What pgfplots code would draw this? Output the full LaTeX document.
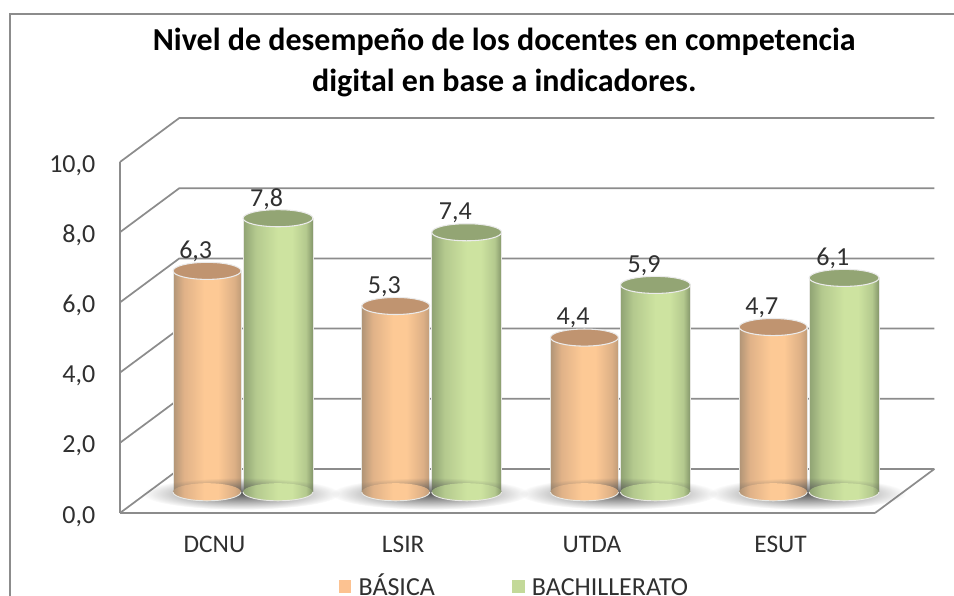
\documentclass[border=0pt]{standalone}
\usepackage{pgfplots}
\usepackage{pgfplotstable}
\usepackage{fontspec}
\setmainfont{Carlito}
\pgfplotsset{compat=1.18}
\usetikzlibrary{fadings}
\definecolor{gridc}{HTML}{8C8C8C}
\definecolor{txt}{HTML}{303030}
\definecolor{legO}{HTML}{FCC291}
\definecolor{legG}{HTML}{C3D999}
\definecolor{HTMLa}{HTML}{B09476}
\definecolor{HTMLb}{HTML}{E0B288}
\definecolor{HTMLc}{HTML}{FDC995}
\definecolor{HTMLd}{HTML}{DDB086}
\definecolor{HTMLe}{HTML}{C09C78}
\definecolor{GHa}{HTML}{8FA273}
\definecolor{GHb}{HTML}{B4C98E}
\definecolor{GHc}{HTML}{CDE3A0}
\definecolor{GHd}{HTML}{84966A}
\definecolor{HTMLt}{HTML}{C09470}
\definecolor{GHt}{HTML}{93A574}
\definecolor{rim}{HTML}{E8E8E4}
\pgfdeclarehorizontalshading{cylO}{100bp}{color(0bp)=(HTMLa);color(25bp)=(HTMLa);color(33bp)=(HTMLb);color(48bp)=(HTMLc);color(58bp)=(HTMLc);color(70bp)=(HTMLd);color(75bp)=(HTMLe);color(100bp)=(HTMLe)}
\pgfdeclarehorizontalshading{cylG}{100bp}{color(0bp)=(GHa);color(25bp)=(GHa);color(34bp)=(GHb);color(50bp)=(GHc);color(60bp)=(GHc);color(70bp)=(GHb);color(75bp)=(GHd);color(100bp)=(GHd)}
\tikzfading[name=softshadow, inner color=transparent!0, outer color=transparent!100]
\pgfdeclareplotmark{shadowmark}{\path[fill=black!65,draw=none,path fading=softshadow] (0pt,0pt) ellipse (74pt and 12pt);}
\pgfdeclareplotmark{baseO}{\path[shade,shading=cylO,draw=none,rotate=5] (0pt,0pt) ellipse (25.5pt and 6.6pt);\path[draw=rim,line width=.7pt,rotate=5] (-25.5pt,0pt) arc (180:360:25.5pt and 6.6pt);}
\pgfdeclareplotmark{baseG}{\path[shade,shading=cylG,draw=none,rotate=5] (0pt,0pt) ellipse (26.2pt and 6.6pt);\path[draw=rim,line width=.7pt,rotate=5] (-26.2pt,0pt) arc (180:360:26.2pt and 6.6pt);}
\pgfdeclareplotmark{topO}{\path[fill=HTMLt,draw=white!92!black,line width=.8pt,rotate=5] (0pt,0pt) ellipse (25.5pt and 6.4pt);}
\pgfdeclareplotmark{topG}{\path[fill=GHt,draw=white!92!black,line width=.8pt,rotate=5] (0pt,0pt) ellipse (26.2pt and 6.4pt);}
\pgfplotstableread{
x basica bach
0 6.3 7.8
1 5.3 7.4
2 4.4 5.9
3 4.7 6.1
}\datatable
\begin{document}
\begin{tikzpicture}
\useasboundingbox (-90pt,-62.25pt) rectangle (625.5pt,384.75pt);
\draw[gridc,line width=1.4pt] (-82.5pt,-70pt) -- (-82.5pt,374.25pt) -- (630pt,374.25pt);
\begin{axis}[
  at={(0pt,0pt)},anchor=south west,
  scale only axis,width=566.25pt,height=263.25pt,
  xmin=-0.6492,xmax=3.3518,ymin=0,ymax=10,
  clip=false,
  axis x line=bottom,axis y line=left,
  axis line style={-,gridc,line width=1.3pt},
  major tick length=0pt,
  xtick={0,1,2,3},xticklabels={DCNU,LSIR,UTDA,ESUT},
  ytick={0,2,4,6,8,10},
  x tick label style={font=\fontsize{19}{22}\selectfont,text=txt,xshift=-21pt,anchor=center,yshift=-23.75pt},
  y tick label style={font=\fontsize{19.5}{22}\selectfont,text=txt,xshift=-15pt,yshift=-2.5pt,
    /pgf/number format/.cd,fixed,fixed zerofill,precision=1,use comma,assume math mode=true},
  title={Nivel de desempeño de los docentes en competencia\\digital en base a indicadores.},
  title style={at={(0.509,1)},anchor=center,yshift=68.75pt,align=center,font=\bfseries\fontsize{24}{30.75}\selectfont},
  legend style={at={(0.523,-0.208)},anchor=center,draw=none,fill=none,legend columns=2,
    nodes={text height=13.5pt,text depth=0pt},
    font=\fontsize{19.5}{22}\selectfont,text=txt,/tikz/every even column/.append style={column sep=56pt}},
  every node near coord/.append style={font=\fontsize{19.5}{22}\selectfont,text=txt,anchor=center,xshift=-8.5pt,yshift=14.5pt,
    /pgf/number format/.cd,fixed,fixed zerofill,precision=1,use comma,assume math mode=true},
]
% walls
\pgfplotsinvokeforeach{0,2,4,6,8,10}{
  \draw[gridc,line width=1.3pt] (axis cs:-0.6492,#1) -- ++(44.5pt,33pt) -- ++(566.25pt,0pt);
}
\draw[gridc,line width=1.3pt] (axis cs:3.3518,0) -- ++(44.5pt,33pt);
% legend
\addlegendimage{only marks,mark=square*,mark size=4.4pt,mark options={fill=legO,draw=legO}}
\addlegendentry{\hspace{4pt}BÁSICA}
\addlegendimage{only marks,mark=square*,mark size=4.4pt,mark options={fill=legG,draw=legG}}
\addlegendentry{\hspace{4pt}BACHILLERATO}
% shadows
\addplot[forget plot,only marks,mark=shadowmark,yshift=14.5pt,xshift=-1pt] table[x=x,y expr=0]{\datatable};
% BÁSICA
\addplot[forget plot,only marks,mark=baseO,yshift=15.75pt,xshift=-26.6pt] table[x=x,y expr=0]{\datatable};
\pgfplotsinvokeforeach{0,1,2,3}{
\addplot[forget plot,ybar,bar width=51pt,bar shift=0pt,shade,shading=cylO,draw=none,yshift=15.75pt,xshift=-26.6pt,restrict x to domain=#1:#1] table[x=x,y=basica]{\datatable};
}
\addplot[forget plot,ycomb,no marks,draw=rim,line width=.6pt,yshift=15.75pt,xshift=-52.1pt] table[x=x,y=basica]{\datatable};
\addplot[forget plot,ycomb,no marks,draw=rim,line width=.6pt,yshift=15.75pt,xshift=-1.1pt] table[x=x,y=basica]{\datatable};
\addplot[forget plot,only marks,mark=topO,nodes near coords,yshift=15.75pt,xshift=-26.6pt] table[x=x,y=basica]{\datatable};
% BACHILLERATO
\addplot[forget plot,only marks,mark=baseG,yshift=15.75pt,xshift=26.6pt] table[x=x,y expr=0]{\datatable};
\pgfplotsinvokeforeach{0,1,2,3}{
\addplot[forget plot,ybar,bar width=52.4pt,bar shift=0pt,shade,shading=cylG,draw=none,yshift=15.75pt,xshift=26.6pt,restrict x to domain=#1:#1] table[x=x,y=bach]{\datatable};
}
\addplot[forget plot,ycomb,no marks,draw=rim,line width=.6pt,yshift=15.75pt,xshift=0.4pt] table[x=x,y=bach]{\datatable};
\addplot[forget plot,ycomb,no marks,draw=rim,line width=.6pt,yshift=15.75pt,xshift=52.8pt] table[x=x,y=bach]{\datatable};
\addplot[forget plot,only marks,mark=topG,nodes near coords,yshift=15.75pt,xshift=26.6pt] table[x=x,y=bach]{\datatable};
\end{axis}
\end{tikzpicture}
\end{document}
